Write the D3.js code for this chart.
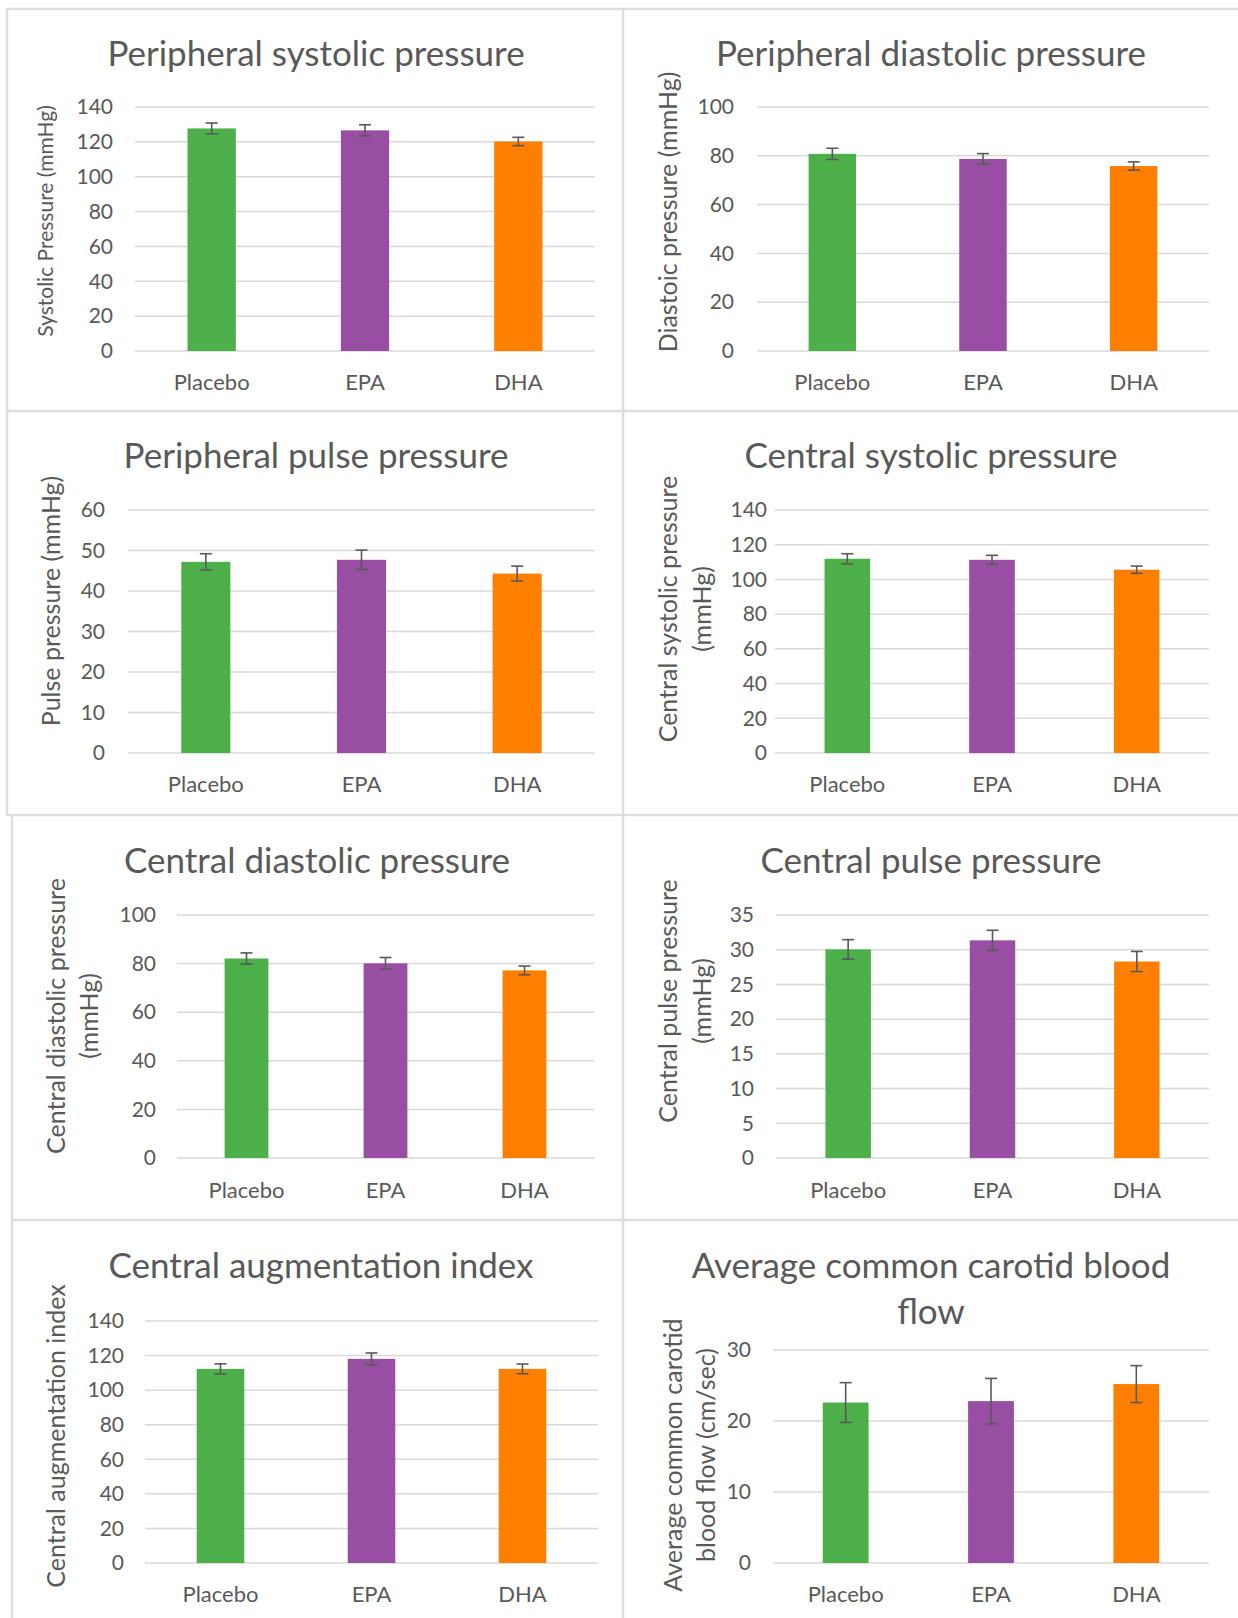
<!DOCTYPE html>
<html><head><meta charset="utf-8">
<script src="https://cdn.jsdelivr.net/npm/d3@7"></script>
<style>
body{margin:0;background:#fff}
svg{display:block}
text{font-family:Lato,"Open Sans",sans-serif;fill:#595959}
</style>
</head><body>
<svg id="c" width="1238" height="1618"></svg>
<script>
// ---------- data ----------
const categories = ["Placebo", "EPA", "DHA"];
const barColors = ["#4DAF4A", "#984EA3", "#FF7F00"];

const periphSystolic = [127.7, 126.6, 120.2];
const periphSystolicErr = [3.1, 3.2, 2.4];
const periphDiastolic = [80.8, 78.7, 75.8];
const periphDiastolicErr = [2.3, 2.2, 1.7];
const periphPulse = [47.2, 47.7, 44.3];
const periphPulseErr = [2.0, 2.4, 1.85];
const centralSystolic = [111.9, 111.3, 105.6];
const centralSystolicErr = [2.9, 2.6, 2.1];
const centralDiastolic = [82.1, 80.1, 77.2];
const centralDiastolicErr = [2.3, 2.4, 1.8];
const centralPulse = [30.05, 31.35, 28.3];
const centralPulseErr = [1.4, 1.45, 1.45];
const augIndex = [112.3, 118.1, 112.3];
const augIndexErr = [2.9, 3.4, 2.8];
const carotidFlow = [22.6, 22.8, 25.2];
const carotidFlowErr = [2.8, 3.2, 2.6];

const ticks140 = [0, 20, 40, 60, 80, 100, 120, 140];
const ticks100 = [0, 20, 40, 60, 80, 100];
const ticks60 = [0, 10, 20, 30, 40, 50, 60];
const ticks35 = [0, 5, 10, 15, 20, 25, 30, 35];
const ticks30 = [0, 10, 20, 30];

const panels = [
  {title: ["Peripheral systolic pressure"], yTitle: ["Systolic Pressure (mmHg)"], values: periphSystolic, errors: periphSystolicErr, ticks: ticks140},
  {title: ["Peripheral diastolic pressure"], yTitle: ["Diastoic pressure (mmHg)"], values: periphDiastolic, errors: periphDiastolicErr, ticks: ticks100},
  {title: ["Peripheral pulse pressure"], yTitle: ["Pulse pressure (mmHg)"], values: periphPulse, errors: periphPulseErr, ticks: ticks60},
  {title: ["Central systolic pressure"], yTitle: ["Central systolic pressure", "(mmHg)"], values: centralSystolic, errors: centralSystolicErr, ticks: ticks140},
  {title: ["Central diastolic pressure"], yTitle: ["Central diastolic pressure", "(mmHg)"], values: centralDiastolic, errors: centralDiastolicErr, ticks: ticks100},
  {title: ["Central pulse pressure"], yTitle: ["Central pulse pressure", "(mmHg)"], values: centralPulse, errors: centralPulseErr, ticks: ticks35},
  {title: ["Central augmentation index"], yTitle: ["Central augmentation index"], values: augIndex, errors: augIndexErr, ticks: ticks140},
  {title: ["Average common carotid blood", "flow"], yTitle: ["Average common carotid", "blood flow (cm/sec)"], values: carotidFlow, errors: carotidFlowErr, ticks: ticks30}
];

// ---------- layout ----------
const layout = [
  {x0: 135, x1: 595, yTop: 107, yBot: 351, tickX: 113, titleX: 316, titleY: [54], yTitleX: [46], yTitleY: 221, yTitleSize: 21, catY: 382},
  {x0: 757, x1: 1209, yTop: 107, yBot: 351, tickX: 734, titleX: 931, titleY: [54], yTitleX: [668], yTitleY: 212, yTitleSize: 25, catY: 382},
  {x0: 128, x1: 595, yTop: 510, yBot: 753, tickX: 105, titleX: 316, titleY: [456], yTitleX: [51], yTitleY: 601, yTitleSize: 25, catY: 784},
  {x0: 775, x1: 1209, yTop: 510, yBot: 753, tickX: 767, titleX: 931, titleY: [456], yTitleX: [668, 702], yTitleY: 609, yTitleSize: 25, catY: 784},
  {x0: 177, x1: 594, yTop: 915, yBot: 1158, tickX: 156, titleX: 317, titleY: [861], yTitleX: [56, 89], yTitleY: 1016, yTitleSize: 25, catY: 1190},
  {x0: 776, x1: 1209, yTop: 915, yBot: 1158, tickX: 754, titleX: 931, titleY: [861], yTitleX: [668, 702], yTitleY: 1001, yTitleSize: 25, catY: 1190},
  {x0: 145, x1: 598, yTop: 1321, yBot: 1563, tickX: 124, titleX: 321, titleY: [1266], yTitleX: [56], yTitleY: 1436, yTitleSize: 25, catY: 1594},
  {x0: 773, x1: 1209, yTop: 1350, yBot: 1563, tickX: 751, titleX: 931, titleY: [1266, 1312], yTitleX: [673, 706], yTitleY: 1455, yTitleSize: 25, catY: 1594}
];

const svg = d3.select("#c");
const borderColor = "#dedede";
const gridColor = "#d9d9d9";
const textColor = "#595959";

// panel borders
const borders = [
  [7, 9, 1238, 9], [7, 9, 7, 815], [12, 815, 12, 1618], [623, 9, 623, 1618],
  [7, 411, 1238, 411], [7, 815, 1238, 815], [12, 1220, 1238, 1220]
];
svg.append("g").selectAll("line").data(borders).join("line")
  .attr("x1", d => d[0]).attr("y1", d => d[1]).attr("x2", d => d[2]).attr("y2", d => d[3])
  .attr("stroke", borderColor).attr("stroke-width", 2.5);

panels.forEach((p, i) => {
  const L = layout[i];
  const g = svg.append("g");
  const x = d3.scaleBand().domain(categories).range([L.x0, L.x1]).padding(0);
  const y = d3.scaleLinear().domain([0, d3.max(p.ticks)]).range([L.yBot, L.yTop]);
  const barW = x.bandwidth() * 0.315;

  // gridlines
  g.append("g").selectAll("line").data(p.ticks).join("line")
    .attr("x1", L.x0).attr("x2", L.x1)
    .attr("y1", d => y(d)).attr("y2", d => y(d))
    .attr("stroke", gridColor).attr("stroke-width", 1.5);

  // y tick labels via axis
  const ax = g.append("g").attr("transform", `translate(${L.tickX + 8},0)`)
    .call(d3.axisLeft(y).tickValues(p.ticks).tickSize(0).tickPadding(8));
  ax.select(".domain").remove();
  ax.selectAll("text").attr("font-family", "Lato, 'Open Sans', sans-serif")
    .attr("font-size", 21).attr("fill", textColor);

  // bars
  g.append("g").selectAll("rect").data(p.values).join("rect")
    .attr("x", (d, j) => x(categories[j]) + x.bandwidth() / 2 - barW / 2)
    .attr("width", barW)
    .attr("y", d => y(d))
    .attr("height", d => y(0) - y(d))
    .attr("fill", (d, j) => barColors[j]);

  // error bars
  const eg = g.append("g").attr("stroke", textColor).attr("stroke-width", 1.6).attr("fill", "none");
  p.values.forEach((v, j) => {
    const cx = x(categories[j]) + x.bandwidth() / 2;
    const e = p.errors[j];
    eg.append("line").attr("x1", cx).attr("x2", cx).attr("y1", y(v + e)).attr("y2", y(v - e));
    eg.append("line").attr("x1", cx - 6).attr("x2", cx + 6).attr("y1", y(v + e)).attr("y2", y(v + e));
    eg.append("line").attr("x1", cx - 6).attr("x2", cx + 6).attr("y1", y(v - e)).attr("y2", y(v - e));
  });

  // category labels
  const xa = g.append("g").attr("transform", `translate(0,${L.catY - 10})`)
    .call(d3.axisBottom(x).tickSize(0).tickPadding(0));
  xa.select(".domain").remove();
  xa.selectAll("text").attr("font-family", "Lato, 'Open Sans', sans-serif")
    .attr("font-size", 22).attr("fill", textColor).attr("dy", "0.35em").attr("y", 10);

  // title
  p.title.forEach((t, k) => {
    g.append("text").attr("x", L.titleX).attr("y", L.titleY[k]).attr("dy", "0.35em")
      .attr("text-anchor", "middle").attr("font-size", 35).text(t);
  });

  // y title
  p.yTitle.forEach((t, k) => {
    g.append("text")
      .attr("transform", `translate(${L.yTitleX[k]},${L.yTitleY}) rotate(-90)`)
      .attr("dy", "0.35em").attr("text-anchor", "middle").attr("font-size", L.yTitleSize).text(t);
  });
});
</script>
</body></html>
